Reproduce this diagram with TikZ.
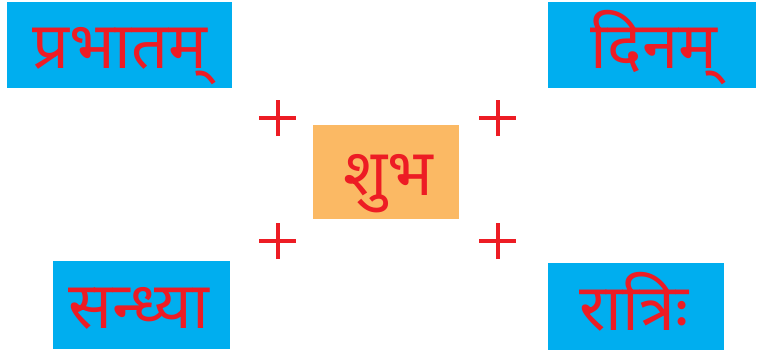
\documentclass[tikz,border=0pt]{standalone}
\usepackage{fontspec}
\newfontfamily\deva[Script=Devanagari]{Noto Sans}
\definecolor{boxcyan}{HTML}{00AEEF}
\definecolor{boxorange}{HTML}{FBB964}
\definecolor{txtred}{HTML}{ED1C24}
\begin{document}
\begin{tikzpicture}[x=1pt,y=-1pt,
  cyanbox/.style={fill=boxcyan,draw=none},
  orangebox/.style={fill=boxorange,draw=none},
  word/.style={text=txtred,font=\deva\fontsize{65}{68}\selectfont,inner sep=0pt,anchor=base},
  plusline/.style={draw=txtred,line width=4pt}]
\useasboundingbox (0,0) rectangle (758,357);
% boxes
\fill[cyanbox] (7,2) rectangle (232,88);
\fill[cyanbox] (548,2) rectangle (756,88);
\fill[orangebox] (313,125) rectangle (459,219);
\fill[cyanbox] (53,261) rectangle (230,349);
\fill[cyanbox] (548,263) rectangle (724,350);
% words
\node[word] (w1) at (120,68) {प्रभातम्};
\node[word] (w2) at (654,68) {दिनम्};
\node[word] (w3) at (388,195) {शुभ};
\node[word] (w4) at (139,328) {सन्ध्या};
\node[word] (w5) at (634,330) {रात्रिः};
% plus signs
\foreach \n/\cx/\cy in {p1/277.5/118, p2/497.5/118, p3/277.5/241, p4/497.5/241}{
  \coordinate (\n) at (\cx,\cy);
  \draw[plusline] ([xshift=-18.5pt]\n) -- ([xshift=18.5pt]\n);
  \draw[plusline] ([yshift=-18pt]\n) -- ([yshift=18pt]\n);
}
\end{tikzpicture}
\end{document}
